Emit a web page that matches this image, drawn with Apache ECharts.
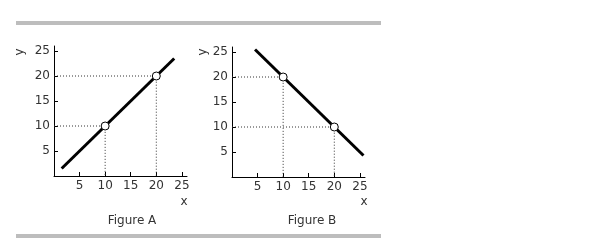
<!DOCTYPE html>
<html>
<head>
<meta charset="utf-8">
<script src="https://cdn.jsdelivr.net/npm/echarts@6/dist/echarts.min.js"></script>
<style>
html,body{margin:0;padding:0;background:#fff;}
#chart{width:615px;height:240px;}
</style>
</head>
<body>
<div id="chart"></div>
<script>
// Data
var tickValues = [5, 10, 15, 20, 25];
var lineA = [[1.5, 1.5], [23.5, 23.5]];
var pointsA = [[10, 10], [20, 20]];
var lineB = [[4.5, 25.5], [25.7, 4.3]];
var pointsB = [[10, 20], [20, 10]];
var titles = ['Figure A', 'Figure B'];

function guides(pts) {
  var out = [];
  pts.forEach(function (p) {
    out.push([[0, p[1]], [p[0], p[1]], [p[0], 0]]);
  });
  return out;
}

var FONT = 'DejaVu Sans';
var labelStyle = { color: '#333', fontSize: 12, fontFamily: FONT };

function xAx(gi) {
  return {
    type: 'value', gridIndex: gi, min: 0, max: 26, interval: 5,
    splitLine: { show: false },
    axisLine: { lineStyle: { color: '#000', width: 1 } },
    axisTick: { inside: true, length: 4, lineStyle: { color: '#000' }, customValues: tickValues },
    axisLabel: Object.assign({ margin: 4, customValues: tickValues }, labelStyle)
  };
}
function yAx(gi) {
  return {
    type: 'value', gridIndex: gi, min: 0, max: 26, interval: 5,
    splitLine: { show: false },
    axisLine: { lineStyle: { color: '#000', width: 1 } },
    axisTick: { inside: true, length: 4, lineStyle: { color: '#000' }, customValues: tickValues },
    axisLabel: Object.assign({ margin: 4, customValues: tickValues }, labelStyle)
  };
}

var series = [];
[[lineA, pointsA], [lineB, pointsB]].forEach(function (d, gi) {
  guides(d[1]).forEach(function (g) {
    series.push({
      type: 'line', xAxisIndex: gi, yAxisIndex: gi, data: g, symbol: 'none',
      lineStyle: { color: '#333', width: 1, type: [1, 2] }, silent: true, z: 1
    });
  });
  series.push({
    type: 'line', xAxisIndex: gi, yAxisIndex: gi, data: d[0], symbol: 'none',
    lineStyle: { color: '#000', width: 3 }, z: 2
  });
  series.push({
    type: 'scatter', xAxisIndex: gi, yAxisIndex: gi, data: d[1], symbol: 'circle', symbolSize: 8,
    itemStyle: { color: '#fff', borderColor: '#000', borderWidth: 1, opacity: 1 }, z: 3
  });
});

var chart = echarts.init(document.getElementById('chart'), null, { renderer: 'canvas' });
chart.setOption({
  animation: false,
  backgroundColor: '#fff',
  grid: [
    { left: 54, top: 46, width: 133, height: 130 },
    { left: 232, top: 47, width: 133, height: 130 }
  ],
  xAxis: [xAx(0), xAx(1)],
  yAxis: [yAx(0), yAx(1)],
  series: series,
  graphic: [
    { type: 'rect', shape: { x: 16, y: 21, width: 365, height: 4 }, style: { fill: '#bdbdbd' } },
    { type: 'rect', shape: { x: 16, y: 234, width: 365, height: 4 }, style: { fill: '#bdbdbd' } },
    { type: 'text', x: 20, y: 52, rotation: Math.PI / 2, style: { text: 'y', fill: '#333', font: '12px ' + FONT, align: 'center', verticalAlign: 'middle' } },
    { type: 'text', x: 203, y: 52, rotation: Math.PI / 2, style: { text: 'y', fill: '#333', font: '12px ' + FONT, align: 'center', verticalAlign: 'middle' } },
    { type: 'text', x: 184, y: 202, style: { text: 'x', fill: '#333', font: '12px ' + FONT, align: 'center', verticalAlign: 'middle' } },
    { type: 'text', x: 364, y: 202, style: { text: 'x', fill: '#333', font: '12px ' + FONT, align: 'center', verticalAlign: 'middle' } },
    { type: 'text', x: 132, y: 221, style: { text: titles[0], fill: '#333', font: '12px ' + FONT, align: 'center', verticalAlign: 'middle' } },
    { type: 'text', x: 312, y: 221, style: { text: titles[1], fill: '#333', font: '12px ' + FONT, align: 'center', verticalAlign: 'middle' } }
  ]
});
</script>
</body>
</html>
